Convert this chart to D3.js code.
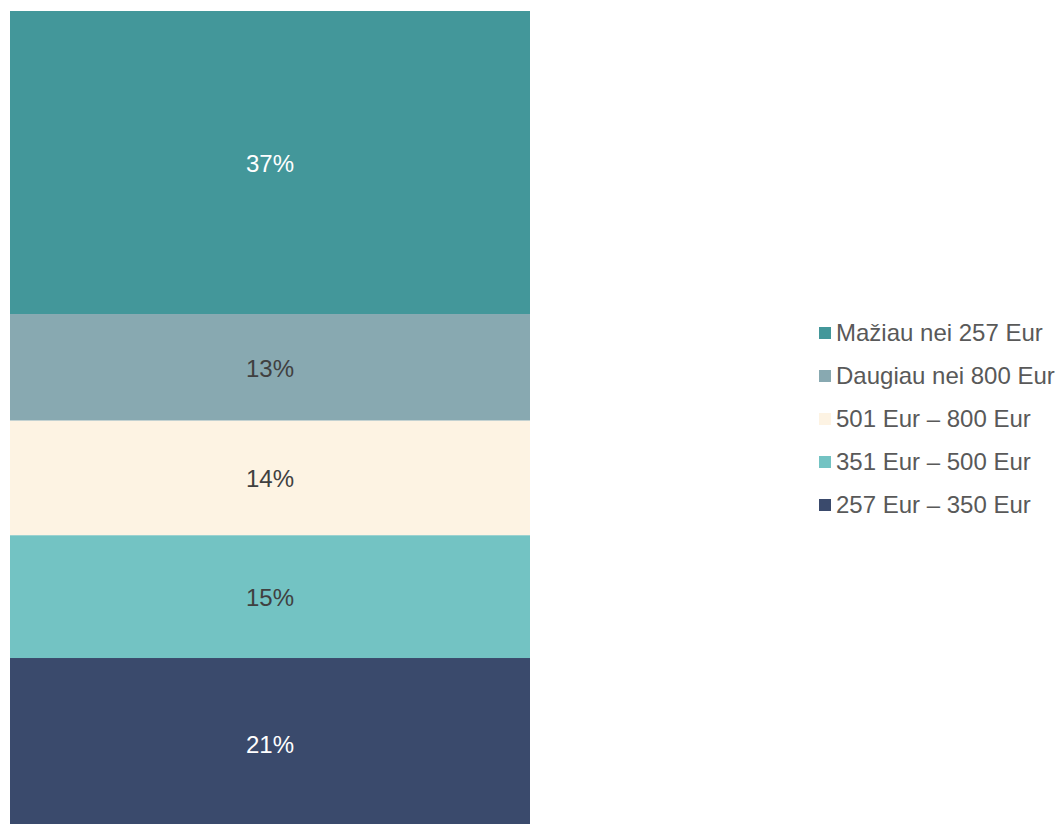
<!DOCTYPE html>
<html>
<head>
<meta charset="utf-8">
<script src="https://cdn.jsdelivr.net/npm/d3@7.9.0/dist/d3.min.js"></script>
<style>
  html, body { margin: 0; padding: 0; background: #fff; overflow: hidden; }
  svg { display: block; font-family: "Liberation Sans", Arial, sans-serif; }
</style>
</head>
<body>
<div id="chart"></div>
<script>
// stacked from bottom to top
const categories = ['257 Eur – 350 Eur', '351 Eur – 500 Eur', '501 Eur – 800 Eur', 'Daugiau nei 800 Eur', 'Mažiau nei 257 Eur'];
const values = [21, 15, 14, 13, 37];
const colors = ['#3a4a6c', '#73c3c3', '#fdf3e3', '#88a9b1', '#43979a'];
const labelColors = ['#ffffff', '#404040', '#404040', '#404040', '#ffffff'];

const width = 1058;
const height = 824;

const svg = d3.select('#chart')
  .append('svg')
  .attr('width', width)
  .attr('height', height);

// bar runs past the bottom edge of the picture, as in the reference
const yScale = d3.scaleLinear().domain([0, 100]).range([830, 11]);
const x0 = 10, x1 = 530;

let acc = 0;
const stacked = values.map((v, i) => {
  const d = { cat: categories[i], value: v, y0: acc, y1: acc + v, color: colors[i], label: labelColors[i] };
  acc += v;
  return d;
});

const bars = svg.append('g');
bars.selectAll('rect')
  .data(stacked)
  .join('rect')
  .attr('x', x0)
  .attr('width', x1 - x0)
  .attr('y', (d) => yScale(d.y1))
  .attr('height', (d) => yScale(d.y0) - yScale(d.y1))
  .attr('fill', (d) => d.color);

bars.selectAll('text')
  .data(stacked)
  .join('text')
  .attr('x', (x0 + x1) / 2)
  .attr('y', (d) => (yScale(d.y0) + yScale(d.y1)) / 2 + 1)
  .attr('dy', '0.35em')
  .attr('text-anchor', 'middle')
  .attr('font-size', 24)
  .attr('fill', (d) => d.label)
  .text((d) => d.value + '%');

// legend, top entry is the top segment
const legendItems = stacked.slice().reverse();
const legend = svg.append('g').attr('transform', 'translate(819, 333)');
const rows = legend.selectAll('g')
  .data(legendItems)
  .join('g')
  .attr('transform', (d, i) => `translate(0, ${i * 43})`);

rows.append('rect')
  .attr('x', 0)
  .attr('y', -6)
  .attr('width', 12)
  .attr('height', 12)
  .attr('fill', (d) => d.color);

rows.append('text')
  .attr('x', 17)
  .attr('y', 0)
  .attr('dy', '0.35em')
  .attr('font-size', 24)
  .attr('fill', '#595959')
  .text((d) => d.cat);
</script>
</body>
</html>
